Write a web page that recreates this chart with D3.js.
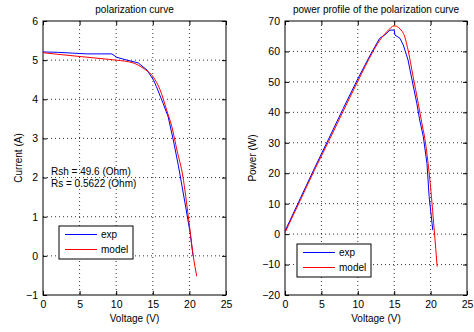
<!DOCTYPE html>
<html>
<head>
<meta charset="utf-8">
<script src="https://cdn.jsdelivr.net/npm/d3@7"></script>
<style>
  body { margin: 0; background: #fff; }
  svg text { font-family: "Liberation Sans", Arial, sans-serif; font-size: 10px; fill: #000; }
</style>
</head>
<body>
<div id="chart"></div>
<script>
// values
const xTicks = [0, 5, 10, 15, 20, 25];
const ivTicks = [-1, 0, 1, 2, 3, 4, 5, 6];
const pvTicks = [-20, -10, 0, 10, 20, 30, 40, 50, 60, 70];

// I-V curve, measured
const expV = [0, 2, 4, 6, 8, 9.4, 10.1, 11.5, 13.0, 14.2, 15.1, 15.5, 16.4, 17.1, 17.8, 18.5, 19.4, 20.1, 20.5];
const expI = [5.21, 5.2, 5.18, 5.16, 5.16, 5.16, 5.07, 5.0, 4.93, 4.75, 4.49, 4.32, 3.9, 3.55, 2.96, 2.3, 1.35, 0.59, 0.0];
// I-V curve, model
const modV = [0, 2, 5.2, 9, 10, 12.3, 13.7, 15.1, 16.0, 16.9, 17.6, 18.3, 19.1, 19.9, 20.5, 21.0];
const modI = [5.19, 5.15, 5.09, 5.02, 5.0, 4.93, 4.79, 4.56, 4.24, 3.72, 3.3, 2.7, 2.04, 0.93, 0.03, -0.52];

// P-V curve, measured
const expPV = [0, 2, 4, 6, 8, 10, 11.7, 13.0, 13.7, 14.4, 15.0, 15.1, 15.8, 16.25, 16.9, 17.4, 18.1, 18.5, 19.0, 19.5, 19.8, 20.3];
const expP = [1, 11.2, 21.4, 31.3, 41.3, 51.0, 58.8, 64.3, 65.4, 67.0, 67.0, 65.4, 64.3, 62.1, 57.2, 51.2, 43.0, 37.5, 32.0, 23.2, 12.3, 1.3];
// P-V curve, model
const modPV = [0, 2, 4, 6, 8, 10, 12, 13, 14, 15.0, 16.25, 16.9, 17.6, 18.3, 18.8, 19.2, 19.9, 20.5, 20.9];
const modP = [0.5, 10.6, 20.8, 30.5, 40.4, 50.2, 59.6, 63.6, 66.5, 68.4, 66.0, 60.5, 51.7, 43.0, 36.4, 31.5, 17.8, 1.3, -10.7];

const svg = d3.select("#chart").append("svg")
  .attr("width", 474).attr("height", 332);

function panel(opts) {
  const {left, right, top, bottom} = opts;
  const x = d3.scaleLinear().domain([0, 25]).range([left, right]);
  const y = d3.scaleLinear().domain(opts.yDomain).range([bottom, top]);
  const g = svg.append("g");

  // grid, dotted
  g.append("g").selectAll("line.gx")
    .data(xTicks.slice(1, -1)).join("line")
    .attr("x1", d => x(d)).attr("x2", d => x(d))
    .attr("y1", top).attr("y2", bottom)
    .attr("stroke", "#000").attr("stroke-width", 0.8).attr("stroke-dasharray", "1,3");
  g.append("g").selectAll("line.gy")
    .data(opts.yTicks.slice(1, -1)).join("line")
    .attr("x1", left).attr("x2", right)
    .attr("y1", d => y(d)).attr("y2", d => y(d))
    .attr("stroke", "#000").attr("stroke-width", 0.8).attr("stroke-dasharray", "1,3");

  // axes with inward ticks
  const tk = 4;
  const fmt = d3.format("d");
  g.append("g").attr("transform", `translate(0,${bottom})`)
    .call(d3.axisBottom(x).tickValues(xTicks).tickFormat(fmt).tickSizeInner(-tk).tickSizeOuter(0).tickPadding(6))
    .call(a => a.select(".domain").remove());
  g.append("g").attr("transform", `translate(0,${top})`)
    .call(d3.axisTop(x).tickValues(xTicks).tickSizeInner(-tk).tickSizeOuter(0).tickFormat(""))
    .call(a => a.select(".domain").remove());
  g.append("g").attr("transform", `translate(${left},0)`)
    .call(d3.axisLeft(y).tickValues(opts.yTicks).tickFormat(fmt).tickSizeInner(-tk).tickSizeOuter(0).tickPadding(5))
    .call(a => a.select(".domain").remove());
  g.append("g").attr("transform", `translate(${right},0)`)
    .call(d3.axisRight(y).tickValues(opts.yTicks).tickSizeInner(-tk).tickSizeOuter(0).tickFormat(""))
    .call(a => a.select(".domain").remove());
  g.selectAll(".tick text").style("font-size", "10.5px")
    .style("font-family", "'Liberation Sans', Arial, sans-serif");
  g.selectAll(".tick line").attr("stroke", "#000");

  g.append("rect")
    .attr("x", left).attr("y", top)
    .attr("width", right - left).attr("height", bottom - top)
    .attr("fill", "none").attr("stroke", "#000").attr("stroke-width", 1);

  // curves (model is smooth)
  const line = d3.line().x(d => x(d[0])).y(d => y(d[1]));
  const smooth = d3.line().x(d => x(d[0])).y(d => y(d[1])).curve(d3.curveMonotoneX);
  g.append("path").datum(d3.zip(opts.expX, opts.expY))
    .attr("d", line).attr("fill", "none").attr("stroke", "#0000ff").attr("stroke-width", 1);
  g.append("path").datum(d3.zip(opts.modX, opts.modY))
    .attr("d", smooth).attr("fill", "none").attr("stroke", "#ff0000").attr("stroke-width", 1);

  // labels
  g.append("text").attr("x", (left + right) / 2).attr("y", 13)
    .attr("text-anchor", "middle").text(opts.title);
  g.append("text").attr("x", (left + right) / 2).attr("y", 322)
    .attr("text-anchor", "middle").text("Voltage (V)");
  g.append("text")
    .attr("transform", `translate(${opts.ylabX},${(top + bottom) / 2}) rotate(-90)`)
    .attr("text-anchor", "middle").text(opts.ylabel);

  // legend
  const L = opts.legend;
  const lg = g.append("g").attr("transform", `translate(${L.x},${L.y})`);
  lg.append("rect").attr("width", 74).attr("height", 33)
    .attr("fill", "#fff").attr("stroke", "#000").attr("stroke-width", 1);
  [["exp", "#0000ff"], ["model", "#ff0000"]].forEach((e, i) => {
    const yy = 8.5 + i * 15;
    lg.append("line").attr("x1", 6).attr("x2", 38).attr("y1", yy).attr("y2", yy)
      .attr("stroke", e[1]).attr("stroke-width", 1);
    lg.append("text").attr("x", 42).attr("y", yy + 3.5).text(e[0]);
  });
  return g;
}

const g1 = panel({
  left: 43, right: 226, top: 21, bottom: 295,
  yDomain: [-1, 6], yTicks: ivTicks,
  expX: expV, expY: expI, modX: modV, modY: modI,
  title: "polarization curve", ylabel: "Current (A)", ylabX: 22,
  legend: {x: 59, y: 226}
});
g1.append("text").attr("x", 51).attr("y", 175).text("Rsh = 49.6 (Ohm)");
g1.append("text").attr("x", 51).attr("y", 187).text("Rs = 0.5622 (Ohm)");

panel({
  left: 285, right: 467, top: 21, bottom: 295,
  yDomain: [-20, 70], yTicks: pvTicks,
  expX: expPV, expY: expP, modX: modPV, modY: modP,
  title: "power profile of the polarization curve", ylabel: "Power (W)", ylabX: 256,
  legend: {x: 297, y: 244}
});
</script>
</body>
</html>
